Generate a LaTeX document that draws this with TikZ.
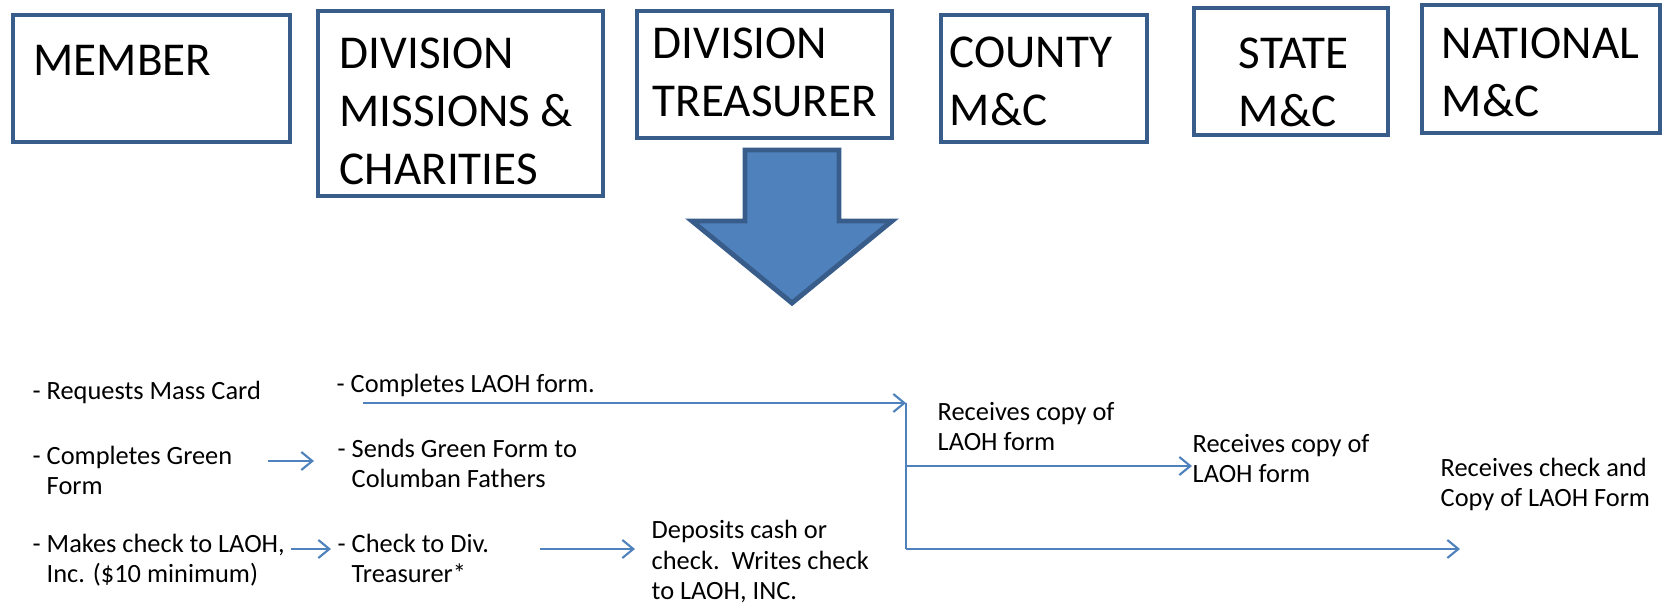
\documentclass[tikz,border=0pt]{standalone}
\usepackage{fontspec}
\setmainfont{Carlito}
\usetikzlibrary{arrows.meta}
\definecolor{boxblue}{HTML}{385D8A}
\definecolor{fillblue}{HTML}{4F81BD}
\definecolor{lineblue}{HTML}{4F81BD}
\tikzset{
  hdrbox/.style={draw=boxblue, line width=1.15pt},
  hdr/.style={anchor=base west, align=left, font=\fontsize{13.4}{16.5}\selectfont},
  txt/.style={anchor=base west, align=left, font=\fontsize{7.5}{8.7}\selectfont},
  flowline/.style={draw=lineblue, line width=0.6pt},
  flow/.style={flowline, -{Straight Barb[length=1.1mm,width=1.8mm]}}
}
\begin{document}
\begin{tikzpicture}[x=0.01cm, y=0.01cm]
        \tikzstyle{every node}+=[inner sep=0pt]
        \useasboundingbox (0,0) rectangle (1667,-607);
        \draw [hdrbox] (13,-15) rectangle (290,-142);
        \node [hdr] (member) at (33,-76) {MEMBER};
        \draw [hdrbox] (318,-11) rectangle (603,-196);
        \node [hdr] (divmc) at (339,-185) {DIVISION\\MISSIONS \&\\CHARITIES};
        \draw [hdrbox] (637,-11) rectangle (892,-138);
        \node [hdr] (divtreas) at (652,-117) {DIVISION\\TREASURER};
        \draw [hdrbox] (941,-15) rectangle (1147,-142);
        \node [hdr] (county) at (949,-126) {COUNTY\\M\&C};
        \draw [hdrbox] (1194,-8) rectangle (1388,-135);
        \node [hdr] (state) at (1238,-127) {STATE\\M\&C};
        \draw [hdrbox] (1422,-5) rectangle (1660,-133);
        \node [hdr] (national) at (1441,-117) {NATIONAL\\M\&C};
        \draw [boxblue, fill=fillblue, line width=1.4pt, line join=miter]
          (745,-150) -- (839,-150) -- (839,-221) -- (892,-221) -- (792,-303)
          -- (692,-221) -- (745,-221) -- cycle;
        \node [txt] (req) at (32,-400) {- Requests Mass Card};
        \node [txt] (lform) at (336,-393) {- Completes LAOH form.};
        \node [txt] (green) at (32,-495) {- Completes Green\\\phantom{- }Form};
        \node [txt] (sends) at (337,-488) {- Sends Green Form to\\\phantom{- }Columban Fathers};
        \node [txt] (makes) at (32,-583) {- Makes check to LAOH,\\\phantom{- }Inc. (\$10 minimum)};
        \node [txt] (chk) at (337,-583) {- Check to Div.\\\phantom{- }Treasurer*};
        \node [txt] (dep) at (651,-600) {Deposits cash or\\check.\ \ Writes check\\to LAOH, INC.};
        \node [txt] (rcounty) at (937,-451) {Receives copy of\\LAOH form};
        \node [txt] (rstate) at (1192,-483) {Receives copy of\\LAOH form};
        \node [txt] (rnational) at (1440,-507) {Receives check and\\Copy of LAOH Form};
        \coordinate (rowgreen) at (0,-461);
        \coordinate (rowcheck) at (0,-549);
        \coordinate (split) at (906,-403);
        \coordinate (splitend) at (906,-549);
        \coordinate (rowcopy) at (0,-466);
        \draw [flow, shorten <=3.5mm, shorten >=2.3mm] (green.east |- rowgreen) -- (sends.west |- rowgreen);
        \draw [flow, shorten <=0.6mm, shorten >=0.6mm] (makes.east |- rowcheck) -- (chk.west |- rowcheck);
        \draw [flow, shorten <=5mm, shorten >=1.6mm] (chk.east |- rowcheck) -- (dep.west |- rowcheck);
        \draw [flow] ([shift={(27,-10)}]lform.base west) -- (split);
        \draw [flowline] (split) -- (splitend);
        \draw [flow] (split |- rowcopy) -- (rstate.west |- rowcopy);
        \draw [flow, shorten >=-2mm] (splitend) -- (rnational.west |- splitend);
\end{tikzpicture}
\end{document}
